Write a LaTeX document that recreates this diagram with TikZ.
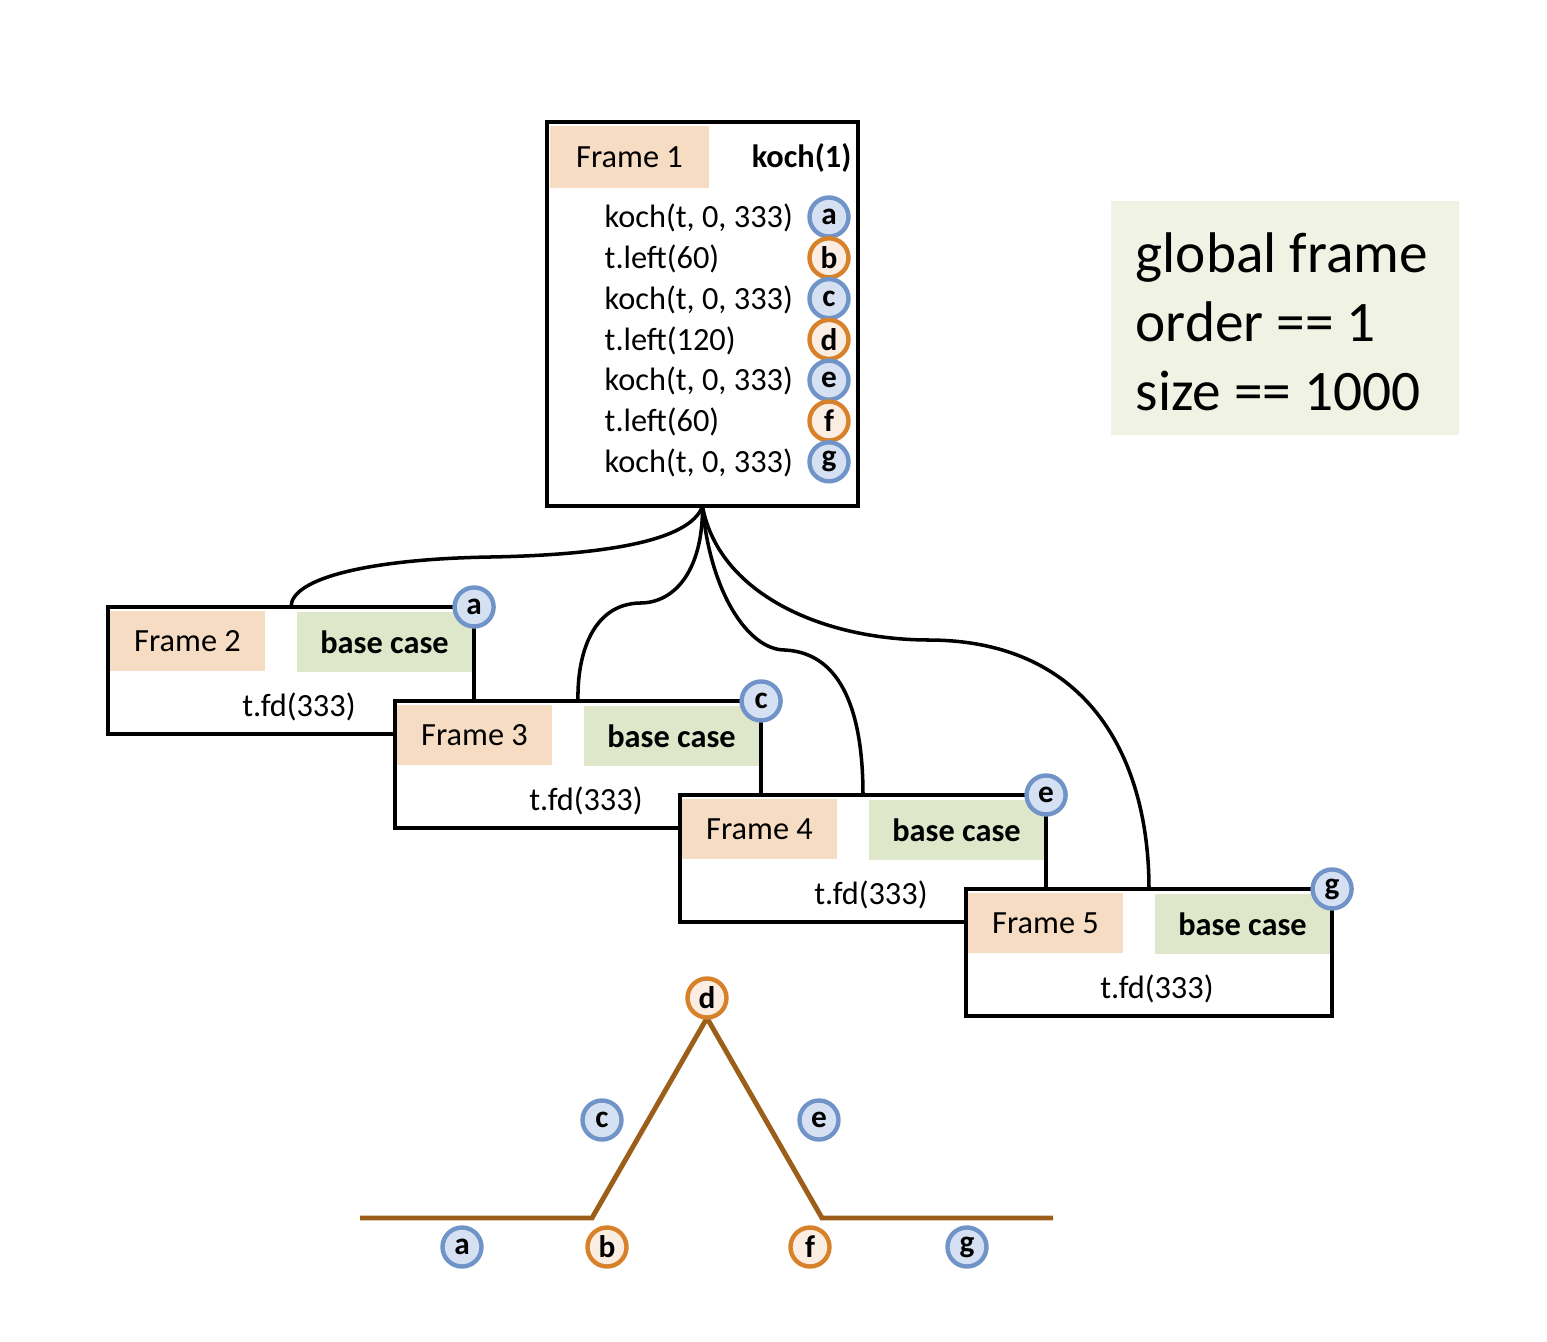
\documentclass[tikz,border=0pt]{standalone}
\usepackage{fontspec}
\setmainfont{Carlito}
\usepackage{xcolor}
\usetikzlibrary{positioning}

\definecolor{peachfill}{HTML}{F5DCC3}
\definecolor{greenfill}{HTML}{DFE7CB}
\definecolor{globfill}{HTML}{F0F2E3}
\definecolor{bluering}{HTML}{7094C8}
\definecolor{bluefill}{HTML}{D5E1F3}
\definecolor{orangering}{HTML}{D7822A}
\definecolor{orangefill}{HTML}{FBEDE2}
\definecolor{kochbrown}{HTML}{9C5F1A}

\newcommand{\kochcall}{koch(t, 0, 333)}

\tikzset{
  framebox/.style={rectangle, draw, fill=white, line width=1.15pt, inner sep=0pt, outer sep=0pt},
  peach/.style={rectangle, fill=peachfill, minimum width=1.55cm, minimum height=0.6cm, inner sep=0pt},
  greenhead/.style={rectangle, fill=greenfill, minimum width=1.75cm, minimum height=0.6cm, inner sep=0pt, font=\fontsize{9.2pt}{11pt}\selectfont\bfseries},
  blueletter/.style={circle, draw=bluering, fill=bluefill, line width=1.25pt, minimum size=0.39cm, inner sep=0pt, font=\fontsize{8.9pt}{10pt}\selectfont\bfseries},
  orangeletter/.style={blueletter, draw=orangering, fill=orangefill},
  link/.style={line width=1pt},
  kochline/.style={draw=kochbrown, line width=1.4pt},
}

\begin{document}
\begin{tikzpicture}[x=0.01cm, y=-0.01cm, every node/.style={font=\fontsize{9.2pt}{11pt}\selectfont}]
\useasboundingbox (0,0) rectangle (1547,1341);

% top frame
\node[framebox, minimum width=3.11cm, minimum height=3.84cm] (f1) at (702.5,314) {};
\node[peach, minimum width=1.59cm, minimum height=0.62cm] (f1head) at (629.5,157) {Frame 1};
\node[anchor=east, inner sep=0pt, font=\fontsize{9.2pt}{11pt}\selectfont\bfseries] (f1name) at (852,158) {koch(1)};
\foreach \txt/\lab/\dot [count=\i] in {\kochcall/a/blueletter, t.left(60)/b/orangeletter,
    \kochcall/c/blueletter, t.left(120)/d/orangeletter, \kochcall/e/blueletter,
    t.left(60)/f/orangeletter, \kochcall/g/blueletter} {
  \node[anchor=west, inner sep=0pt] (call\i) at (604,{218+40.8*(\i-1)}) {\txt};
  \node[\dot] (dot\i) at (829,{217+40.8*(\i-1)}) {\lab};
}

% base case frames
\foreach \n/\cx/\cy/\lab in {2/291/670.5/a, 3/578/764.5/c, 4/863/858.5/e, 5/1149/952.5/g} {
  \node[framebox, minimum width=3.66cm, minimum height=1.27cm] (f\n) at (\cx,\cy) {};
  \node[peach] (f\n head) at (\cx-103.5,\cy-29.5) {Frame \n};
  \node[greenhead] (f\n base) at (\cx+93.5,\cy-28.5) {base case};
  \node[inner sep=0pt] (f\n fd) at (\cx+8,\cy+36) {t.fd(333)};
  \node[blueletter] (f\n dot) at (f\n.north east) {\lab};
}

% calls
\draw[link] (f1.south) .. controls (690,542) and (600,555) .. (490,557)
  .. controls (370,559) and (291,578) .. (f2.north);
\draw[link] (f1.south) .. controls (703,570) and (675,603) .. (640,603)
  .. controls (592,604) and (577,655) .. (f3.north);
\draw[link] (f1.south) .. controls (710,592) and (748,650) .. (785,650)
  .. controls (843,653) and (863,715) .. (f4.north);
\draw[link] (f1.south) .. controls (718,592) and (820,640) .. (930,640)
  .. controls (1090,641) and (1149,760) .. (f5.north);

% global frame
\node[rectangle, fill=globfill, minimum width=3.48cm, minimum height=2.34cm, inner sep=0pt] (glob) at (1285,318) {};
\node[anchor=west, align=left, inner sep=0pt, font=\fontsize{16.3pt}{19.6pt}\selectfont] (globtext) at (1135,322)
  {global frame\\order == 1\\size == 1000};

% koch curve
\coordinate (k0) at (360,1218);
\coordinate (k1) at (592,1218);
\coordinate (k2) at (707,1018);
\coordinate (k3) at (822,1218);
\coordinate (k4) at (1053,1218);
\draw[kochline] (k0) -- (k1) -- (k2) -- (k3) -- (k4);

\node[blueletter] (ka) at (462,1247) {a};
\node[orangeletter] (kb) at (607,1247) {b};
\node[blueletter] (kc) at (602,1120) {c};
\node[orangeletter] (kd) at (707,998) {d};
\node[blueletter] (ke) at (819,1120) {e};
\node[orangeletter] (kf) at (810,1247) {f};
\node[blueletter] (kg) at (967,1247) {g};
\end{tikzpicture}
\end{document}
